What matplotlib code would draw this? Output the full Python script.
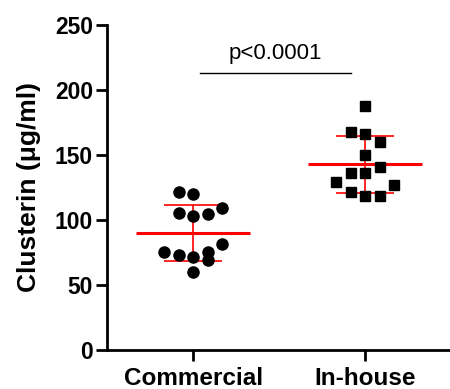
import numpy as np
import matplotlib
matplotlib.use("Agg")
import matplotlib.pyplot as plt

plt.rcParams["font.family"] = ["Liberation Sans", "DejaVu Sans"]

# data
groups = ["Commercial", "In-house"]

commercial = [121.8, 120.0, 105.6, 103.0, 104.4, 109.5, 81.5,
              75.4, 72.8, 71.8, 75.4, 69.2, 59.7]
commercial_col = [-1, 0, -1, 0, 1, 2, 2, -2, -1, 0, 1, 1, 0]

inhouse = [188.0, 168.0, 166.0, 159.8, 150.2, 141.0, 136.4,
           136.4, 129.0, 126.9, 121.3, 118.2, 118.2]
inhouse_col = [0, -1, 0, 1, 0, 1, -1, 0, -2, 2, -1, 0, 1]

p_text = "p<0.0001"
p_bar_y = 213.3

col_step = 0.084

fig = plt.figure(figsize=(4.5, 3.89), dpi=100)
ax = fig.add_axes([0.2378, 0.1003, 0.7622, 0.8355])

series = [(commercial, commercial_col, "o", 8.0),
          (inhouse, inhouse_col, "s", 7.4)]

for i, (vals, cols, mk, ms) in enumerate(series):
    vals = np.array(vals)
    xs = i + np.array(cols) * col_step
    ax.plot(xs, vals, linestyle="none", marker=mk, markersize=ms,
            color="black", zorder=3, clip_on=False)
    m = vals.mean()
    sd = vals.std(ddof=1)
    ax.hlines(m, i - 0.33, i + 0.33, color="#ff0000", linewidth=2.2, zorder=2)
    ax.vlines(i, m - sd, m + sd, color="#ff0000", linewidth=1.2, zorder=2)
    ax.hlines([m - sd, m + sd], i - 0.17, i + 0.17, color="#ff0000",
              linewidth=1.2, zorder=2)

# significance bar
ax.plot([0.043, 0.92], [p_bar_y, p_bar_y], color="black", linewidth=1.0)
ax.text(0.48, 223.5, p_text, ha="center", va="baseline", fontsize=16)

ax.set_xlim(-0.5, 1.4925)
ax.set_ylim(0, 250)
ax.set_yticks([0, 50, 100, 150, 200, 250])
ax.set_xticks([0, 1])
ax.set_xticklabels(groups, fontsize=17.5, fontweight="bold")
for lab in ax.get_yticklabels():
    lab.set_fontsize(16.5)
    lab.set_fontweight("bold")

ax.set_ylabel("Clusterin (\u03bcg/ml)", fontsize=19, fontweight="bold",
              labelpad=10)

for s in ["top", "right"]:
    ax.spines[s].set_visible(False)
for s in ["left", "bottom"]:
    ax.spines[s].set_linewidth(2)
ax.tick_params(width=2, length=8, pad=2)
ax.tick_params(axis="x", pad=4)

fig.savefig("out.png", dpi=100)
